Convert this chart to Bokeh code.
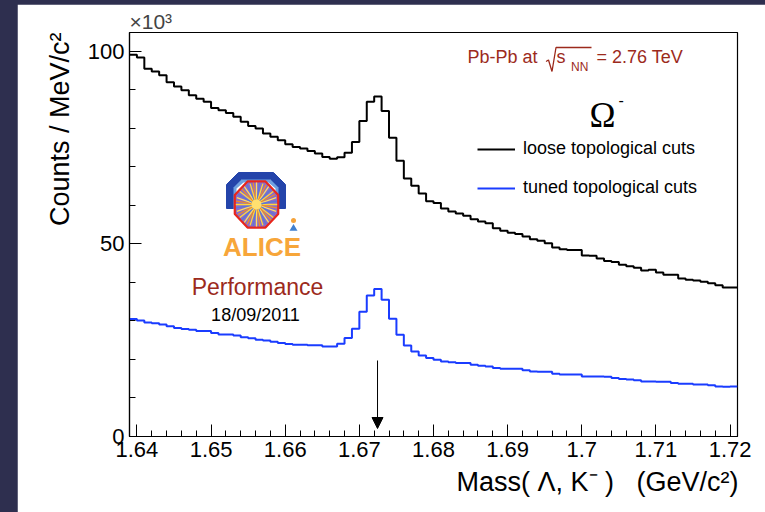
import numpy as np
from bokeh.plotting import figure
from bokeh.models import (Range1d, FixedTicker, Arrow, NormalHead, Legend, LegendItem, Title)
from bokeh.layouts import column
from bokeh.core.properties import value
from bokeh.embed import file_html
from bokeh.resources import INLINE

# ---------------- data ----------------
hist_xmin = 1.639      # GeV/c^2
hist_xmax = 1.721
n_bins = 82            # 1 MeV bins

# counts per MeV/c^2, in units of 10^3
loose_counts = [99.1, 98.4, 95.5, 94.8, 93.8, 92.0, 90.9, 89.9, 88.6, 87.7,
                86.9, 85.3, 84.7, 84.0, 83.0, 81.7, 80.6, 80.0, 78.7, 77.8,
                76.9, 75.9, 75.2, 74.8, 74.1, 73.5, 72.6, 72.1, 72.5, 73.7,
                76.5, 81.9, 86.9, 88.3, 84.5, 77.6, 71.6, 67.0, 65.1, 63.1,
                61.1, 60.6, 59.2, 58.4, 57.9, 57.3, 56.4, 55.8, 55.4, 54.1,
                53.4, 52.9, 52.6, 51.9, 51.2, 50.8, 50.2, 49.1, 48.6, 48.4,
                48.4, 47.0, 46.9, 46.2, 45.6, 45.3, 44.6, 44.2, 43.8, 43.1,
                43.3, 42.6, 42.0, 42.0, 41.0, 40.7, 40.5, 40.2, 39.8, 39.3,
                38.7, 38.7]
tuned_counts = [30.5, 30.1, 29.6, 29.4, 29.1, 28.6, 28.2, 27.9, 27.7, 27.4,
                27.4, 26.9, 26.5, 26.5, 26.2, 25.8, 25.5, 25.1, 24.9, 24.6,
                24.3, 24.0, 23.8, 23.8, 23.7, 23.7, 23.4, 23.4, 24.1, 25.6,
                28.0, 32.4, 36.6, 38.3, 35.5, 30.6, 26.4, 23.6, 22.1, 21.0,
                20.4, 19.9, 19.5, 19.3, 19.1, 19.1, 18.6, 18.4, 18.2, 17.8,
                17.6, 17.6, 17.6, 17.2, 16.9, 16.8, 16.8, 16.3, 16.1, 16.1,
                16.1, 15.6, 15.6, 15.6, 15.5, 15.2, 14.9, 14.8, 14.6, 14.3,
                14.3, 14.2, 14.2, 13.9, 13.7, 13.7, 13.5, 13.5, 13.3, 13.0,
                12.9, 13.0]
series_labels = ["loose topological cuts", "tuned topological cuts"]
omega_mass = 1.67245

xticks = [1.64, 1.65, 1.66, 1.67, 1.68, 1.69, 1.70, 1.71, 1.72]
xtick_labels = ["1.64", "1.65", "1.66", "1.67", "1.68", "1.69", "1.7", "1.71", "1.72"]
yticks = [0, 50, 100]
yminor = [10, 20, 30, 40, 60, 70, 80, 90]

y_max = 104.9

x_title = "Mass( Λ, K⁻ )\u00a0\u00a0\u00a0(GeV/c²)"
y_title = "Counts / MeV/c²"

# ---------------- figure ----------------
FONT = "Liberation Sans"
W, H = 748, 508
FL, FT, FR, FB = 112, 28, 720, 432   # frame box inside the figure

p = figure(width=W, height=H, output_backend="svg", toolbar_location=None,
           x_range=Range1d(hist_xmin, hist_xmax), y_range=Range1d(0, y_max),
           min_border_left=FL, min_border_top=FT,
           min_border_right=W - FR, min_border_bottom=H - FB,
           title="×10³")
p.margin = (4, 0, 0, 17)
p.background_fill_color = "white"
p.border_fill_color = "white"
p.outline_line_color = "black"
p.outline_line_width = 1.2
p.grid.visible = False

p.title.text_font = FONT
p.title.text_font_size = "21px"
p.title.text_font_style = "normal"
p.title.align = "left"
p.title.offset = 0
p.title.standoff = 0

edges = np.round(np.linspace(hist_xmin, hist_xmax, n_bins + 1), 4)
xs = list(edges)

minor_x = list(np.round(np.arange(1.640, 1.7205, 0.002), 3))

for ax in (p.xaxis[0], p.yaxis[0]):
    ax.major_tick_in = 12
    ax.major_tick_out = 0
    ax.minor_tick_in = 6
    ax.minor_tick_out = 0
    ax.axis_line_color = "black"
    ax.axis_line_width = 1.2
    ax.major_tick_line_color = "black"
    ax.minor_tick_line_color = "black"
    ax.major_label_text_font = FONT
    ax.major_label_text_font_size = "22px"
    ax.major_label_text_color = "black"

p.xaxis.ticker = FixedTicker(ticks=xticks, minor_ticks=minor_x)
p.xaxis.major_label_overrides = dict(zip(xticks, xtick_labels))
p.xaxis.major_label_standoff = 5

p.yaxis.ticker = FixedTicker(ticks=yticks, minor_ticks=yminor)
p.yaxis.major_label_standoff = 5

# axis titles, right/top aligned as in ROOT
p.add_layout(Title(text=x_title, align="right", text_font=FONT, text_font_size="27px",
                   text_font_style="normal", text_color="black", standoff=10, offset=-1),
             "below")
p.add_layout(Title(text=y_title, align="right", text_font=FONT, text_font_size="27px",
                   text_font_style="normal", text_color="black", standoff=19, offset=0),
             "left")

# histograms (step, bin contents held until next edge)
r_loose = p.step(xs, loose_counts + [loose_counts[-1]], mode="after",
                 line_color="black", line_width=2)
r_tuned = p.step(xs, tuned_counts + [tuned_counts[-1]], mode="after",
                 line_color="#1a3cff", line_width=2)

# ---- helpers converting reference page pixels to data coords (decorations only)
PL, PT, PR, PB = 129, 32, 737, 436
def dx(px):
    return hist_xmin + (px - PL) * (hist_xmax - hist_xmin) / (PR - PL)
def dy(py):
    return y_max * (PB - py) / (PB - PT)

# legend
legend = Legend(items=[LegendItem(label=series_labels[0], renderers=[r_loose]),
                       LegendItem(label=series_labels[1], renderers=[r_tuned])],
                location=(348, 238), orientation="vertical")
legend.glyph_width = 38
legend.glyph_height = 20
legend.label_height = 20
legend.label_standoff = 8
legend.spacing = 18
legend.padding = 0
legend.margin = 0
legend.border_line_alpha = 0
legend.background_fill_alpha = 0
legend.label_text_font = FONT
legend.label_text_font_size = "18px"
legend.label_text_color = "black"
p.add_layout(legend)

DARKRED = "#9c2a1c"

def label(px, py, s, size, color, align="left", font=FONT, style="normal"):
    p.text(x=[dx(px)], y=[dy(py)], text=[s], text_font=value(font),
           text_font_size=value(size), text_color=color, text_align=align,
           text_baseline="middle", text_font_style=style)

# Pb-Pb at sqrt(s_NN) = 2.76 TeV
label(467, 56.5, "Pb-Pb at", "18px", DARKRED)
p.line(x=[dx(545.5), dx(548), dx(551.5), dx(555.5), dx(591)],
       y=[dy(61), dy(59.5), dy(71), dy(47), dy(47)], line_color=DARKRED, line_width=1.3)
label(556, 56.5, "s", "18px", DARKRED)
label(570.5, 66.5, "NN", "12px", DARKRED)
label(596, 56.5, "= 2.76 TeV", "18px", DARKRED)

# Omega minus
label(589, 115, "Ω", "35px", "black", font="Liberation Serif")
label(618, 99, "-", "16px", "black")

# ALICE logo (approximation)
arch_x = [226, 226, 238, 273, 285, 285, 278, 278, 270, 241, 233, 233]
arch_y = [208, 184, 172, 172, 184, 208, 208, 187, 179, 179, 187, 208]
p.patch([dx(v) for v in arch_x], [dy(v) for v in arch_y], fill_color="#2444aa",
        line_color="#2444aa")
inner_x = [233, 233, 241, 270, 278, 278, 275, 275, 268, 243, 236, 236]
inner_y = [208, 187, 179, 179, 187, 208, 208, 188, 182, 182, 188, 208]
p.patch([dx(v) for v in inner_x], [dy(v) for v in inner_y], fill_color="#6fa0e0",
        line_color=None)
cx, cy, rx, ry = 256, 204, 23.5, 25.0
ang = np.deg2rad(22.5 + 45 * np.arange(8))
oct_x = cx + rx * np.cos(ang)
oct_y = cy + ry * np.sin(ang)
p.patch([dx(v) for v in oct_x], [dy(v) for v in oct_y], fill_color="#8a6cc8",
        line_color="#e8261c", line_width=2.2)
ray_ang = np.deg2rad(np.arange(0, 360, 9))
ray_cols = ["#ffd83a", "#f08a2a", "#ffe060", "#5a78d8"] * 10
p.segment(x0=[dx(cx)] * len(ray_ang), y0=[dy(cy)] * len(ray_ang),
          x1=[dx(cx + 0.88 * rx * np.cos(a)) for a in ray_ang],
          y1=[dy(cy + 0.88 * ry * np.sin(a)) for a in ray_ang],
          line_color=ray_cols[:len(ray_ang)], line_width=1.3)
p.scatter(x=[dx(cx)], y=[dy(cy)], size=10, fill_color="#ffe070", line_color=None)
p.scatter(x=[dx(293)], y=[dy(220)], size=5, fill_color="#f5a33a", line_color=None)
p.scatter(x=[dx(293)], y=[dy(228)], marker="triangle", size=8,
          fill_color="#3f7fcf", line_color=None)
label(261.5, 246.5, "ALICE", "26px", "#f7a63a", align="center", style="bold")

# Performance / date
label(257, 286, "Performance", "23px", DARKRED, align="center")
label(255, 314.5, "18/09/2011", "18px", "black", align="center")

# arrow at the Omega mass
p.add_layout(Arrow(end=NormalHead(size=11, fill_color="black", line_color="black"),
                   x_start=omega_mass, y_start=dy(360), x_end=omega_mass, y_end=dy(428),
                   line_color="black", line_width=1))

layout = column(p, styles={"background-color": "#2e2f4f"}, width=765, height=512)

open("out.html", "w").write(file_html(layout, INLINE))
